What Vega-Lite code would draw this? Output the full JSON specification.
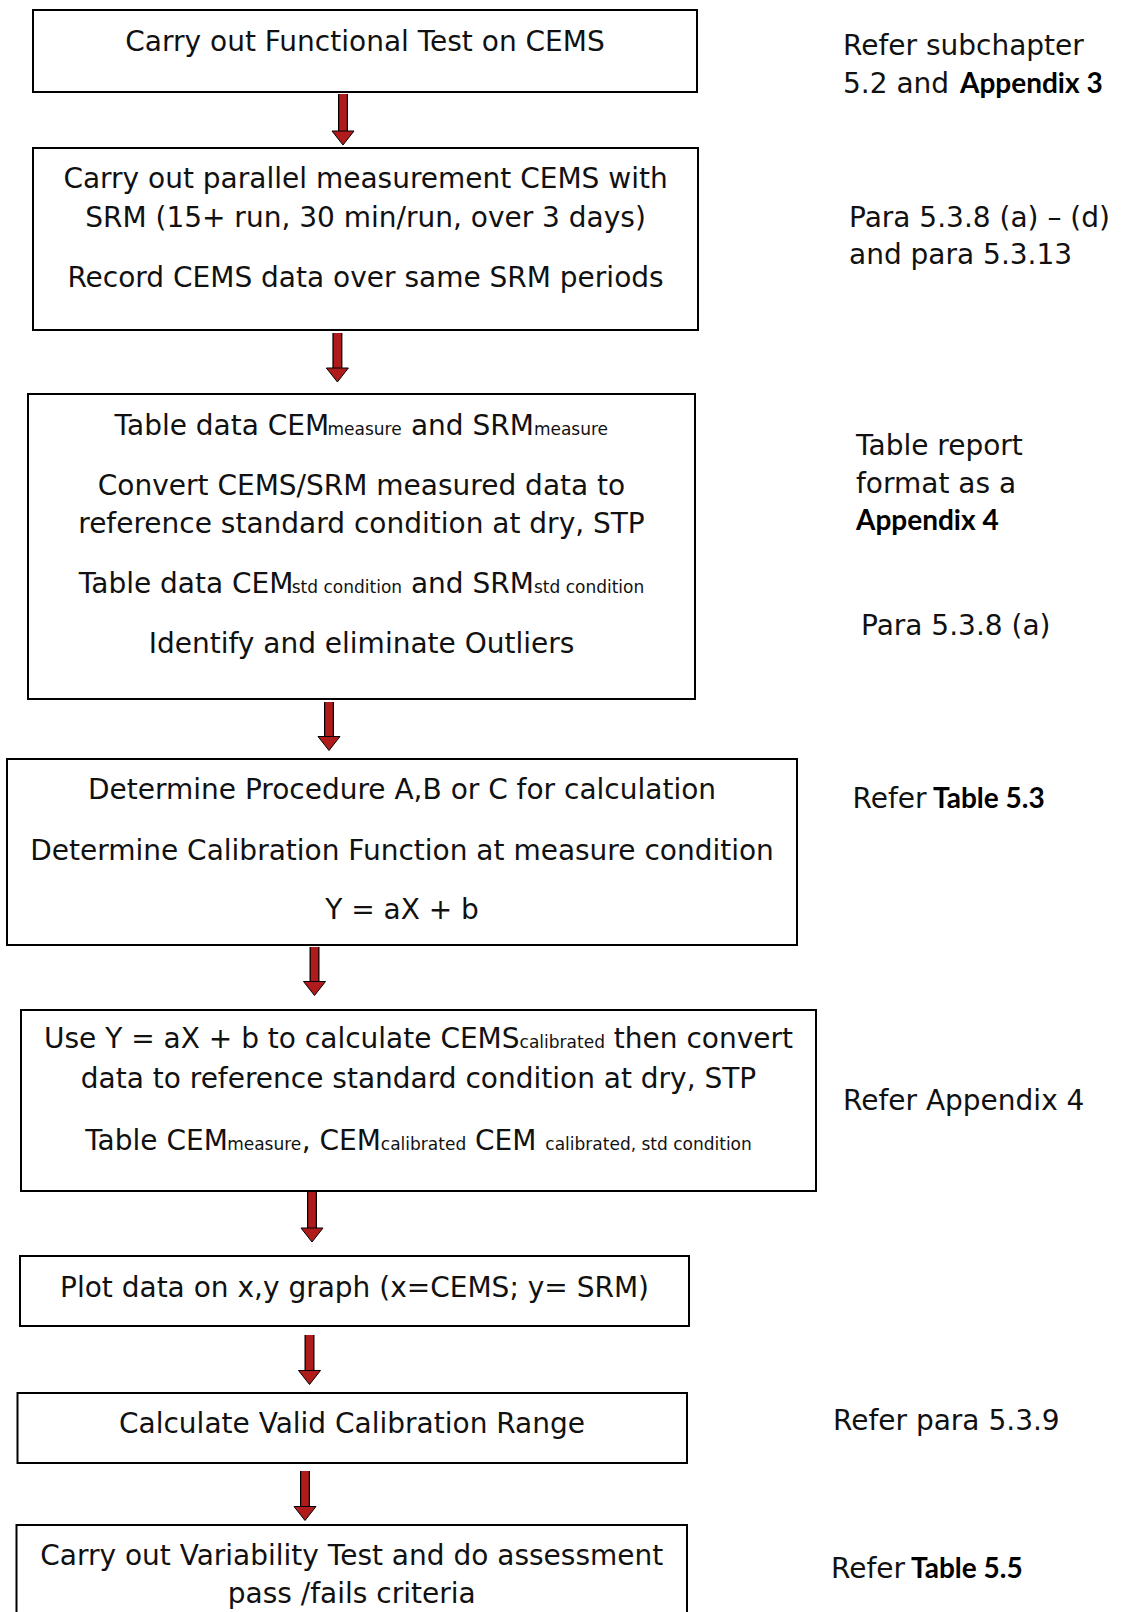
{
  "$schema": "https://vega.github.io/schema/vega-lite/v6.json",
  "width": 1129,
  "height": 1612,
  "padding": 0,
  "autosize": {"type": "fit", "contains": "padding"},
  "background": "white",
  "config": {"view": {"stroke": null}},
  "datasets": {
    "boxes": [
      {"x": 33, "x2": 697, "y": 10, "y2": 92},
      {"x": 33, "x2": 698, "y": 148, "y2": 330},
      {"x": 28, "x2": 695, "y": 394, "y2": 699},
      {"x": 7, "x2": 797, "y": 759, "y2": 945},
      {"x": 21, "x2": 816, "y": 1010, "y2": 1191},
      {"x": 20, "x2": 689, "y": 1256, "y2": 1326},
      {"x": 17.5, "x2": 687, "y": 1393, "y2": 1463},
      {"x": 16.5, "x2": 687, "y": 1525, "y2": 1640}
    ],
    "arrows": [
      {"x": 343, "y": 94, "y2": 131, "hy": 138},
      {"x": 337.4, "y": 333, "y2": 368, "hy": 375},
      {"x": 329, "y": 702, "y2": 736.5, "hy": 743.5},
      {"x": 314.5, "y": 947, "y2": 981.5, "hy": 988.5},
      {"x": 312, "y": 1192, "y2": 1228, "hy": 1235},
      {"x": 309.5, "y": 1335, "y2": 1370.5, "hy": 1377.5},
      {"x": 305, "y": 1471, "y2": 1506.5, "hy": 1513.5}
    ],
    "labels": [
      {"t": "Carry out Functional Test on CEMS", "x": 365, "y": 51, "k": "step"},
      {"t": "Carry out parallel measurement CEMS with", "x": 365.5, "y": 188, "k": "step"},
      {"t": "SRM (15+ run, 30 min/run, over 3 days)", "x": 365.5, "y": 227, "k": "step"},
      {"t": "Record CEMS data over same SRM periods", "x": 365.5, "y": 287, "k": "step"},
      {"t": "Convert CEMS/SRM measured data to", "x": 361.5, "y": 495, "k": "step"},
      {"t": "reference standard condition at dry, STP", "x": 361.5, "y": 533, "k": "step"},
      {"t": "Identify and eliminate Outliers", "x": 361.5, "y": 653, "k": "step"},
      {"t": "Determine Procedure A,B or C for calculation", "x": 402, "y": 799, "k": "step"},
      {"t": "Determine Calibration Function at measure condition", "x": 402, "y": 860, "k": "step"},
      {"t": "Y = aX + b", "x": 402, "y": 919, "k": "step"},
      {"t": "data to reference standard condition at dry, STP", "x": 418.5, "y": 1088, "k": "step"},
      {"t": "Plot data on x,y graph (x=CEMS; y= SRM)", "x": 354.5, "y": 1297, "k": "step"},
      {"t": "Calculate Valid Calibration Range", "x": 352, "y": 1433, "k": "step"},
      {"t": "Carry out Variability Test and do assessment", "x": 351.7, "y": 1565, "k": "step"},
      {"t": "pass /fails criteria", "x": 351.7, "y": 1603, "k": "step"},
      {"t": "Table data CEM", "x": 114.5, "y": 435, "k": "run"},
      {"t": "measure", "x": 327.5, "y": 435, "k": "sub"},
      {"t": "and SRM", "x": 410.9, "y": 435, "k": "run"},
      {"t": "measure", "x": 533.9, "y": 435, "k": "sub"},
      {"t": "Table data CEM", "x": 78.75, "y": 593, "k": "run"},
      {"t": "std condition", "x": 291.75, "y": 593, "k": "sub"},
      {"t": "and SRM", "x": 410.95, "y": 593, "k": "run"},
      {"t": "std condition", "x": 533.95, "y": 593, "k": "sub"},
      {"t": "Use Y = aX + b to calculate CEMS", "x": 44, "y": 1048, "k": "run"},
      {"t": "calibrated", "x": 519.6, "y": 1048, "k": "sub"},
      {"t": "then convert", "x": 613.8, "y": 1048, "k": "run"},
      {"t": "Table CEM", "x": 85.15, "y": 1150, "k": "run"},
      {"t": "measure", "x": 227.15, "y": 1150, "k": "sub"},
      {"t": ", CEM", "x": 301.65, "y": 1150, "k": "run"},
      {"t": "calibrated", "x": 380.85, "y": 1150, "k": "sub"},
      {"t": "CEM", "x": 475.05, "y": 1150, "k": "run"},
      {"t": "calibrated, std condition", "x": 545.35, "y": 1150, "k": "sub"},
      {"t": "Refer subchapter", "x": 843, "y": 55, "k": "run"},
      {"t": "5.2 and", "x": 843, "y": 93, "k": "run"},
      {"t": "Appendix 3", "x": 960, "y": 93, "k": "bold"},
      {"t": "Para 5.3.8 (a) – (d)", "x": 849, "y": 227, "k": "run"},
      {"t": "and para 5.3.13", "x": 849, "y": 264, "k": "run"},
      {"t": "Table report", "x": 856, "y": 455, "k": "run"},
      {"t": "format as a", "x": 856, "y": 493, "k": "run"},
      {"t": "Appendix 4", "x": 856, "y": 530, "k": "bold"},
      {"t": "Para 5.3.8 (a)", "x": 861, "y": 635, "k": "run"},
      {"t": "Refer", "x": 852.5, "y": 808, "k": "run"},
      {"t": "Table 5.3", "x": 933, "y": 808, "k": "bold"},
      {"t": "Refer Appendix 4", "x": 843, "y": 1110, "k": "run"},
      {"t": "Refer para 5.3.9", "x": 833, "y": 1430, "k": "run"},
      {"t": "Refer", "x": 831, "y": 1578, "k": "run"},
      {"t": "Table 5.5", "x": 911, "y": 1578, "k": "bold"}
    ]
  },
  "layer": [
    {
      "data": {"name": "boxes"},
      "mark": {"type": "rect", "fill": "white", "stroke": "#000000", "strokeWidth": 2, "clip": true},
      "encoding": {
        "x": {"field": "x", "type": "quantitative", "scale": {"domain": [0, 1129], "nice": false, "zero": false}, "axis": null},
        "x2": {"field": "x2"},
        "y": {"field": "y", "type": "quantitative", "scale": {"domain": [0, 1612], "nice": false, "zero": false, "reverse": true}, "axis": null},
        "y2": {"field": "y2"}
      }
    },
    {
      "data": {"name": "arrows"},
      "mark": {"type": "rule", "color": "#000000", "strokeWidth": 10, "strokeCap": "butt"},
      "encoding": {
        "x": {"field": "x", "type": "quantitative", "scale": {"domain": [0, 1129], "nice": false, "zero": false}, "axis": null},
        "y": {"field": "y", "type": "quantitative", "scale": {"domain": [0, 1612], "nice": false, "zero": false, "reverse": true}, "axis": null},
        "y2": {"field": "y2"}
      }
    },
    {
      "data": {"name": "arrows"},
      "mark": {"type": "rule", "color": "#B01C1C", "strokeWidth": 7.5, "strokeCap": "butt"},
      "encoding": {
        "x": {"field": "x", "type": "quantitative", "scale": {"domain": [0, 1129], "nice": false, "zero": false}, "axis": null},
        "y": {"field": "y", "type": "quantitative", "scale": {"domain": [0, 1612], "nice": false, "zero": false, "reverse": true}, "axis": null},
        "y2": {"field": "y2"}
      }
    },
    {
      "data": {"name": "arrows"},
      "mark": {"type": "point", "shape": "M-1,-0.636L1,-0.636L0,0.636Z", "size": 484, "filled": true, "fill": "#B01C1C", "stroke": "#000000", "strokeWidth": 1, "opacity": 1},
      "encoding": {
        "x": {"field": "x", "type": "quantitative", "scale": {"domain": [0, 1129], "nice": false, "zero": false}, "axis": null},
        "y": {"field": "hy", "type": "quantitative", "scale": {"domain": [0, 1612], "nice": false, "zero": false, "reverse": true}, "axis": null}
      }
    },
    {
      "data": {"name": "labels"},
      "transform": [{"filter": "datum.k === 'step'"}],
      "mark": {"type": "text", "font": "DejaVu Sans", "fontSize": 28, "align": "center", "baseline": "alphabetic", "color": "#111111"},
      "encoding": {
        "x": {"field": "x", "type": "quantitative", "scale": {"domain": [0, 1129], "nice": false, "zero": false}, "axis": null},
        "y": {"field": "y", "type": "quantitative", "scale": {"domain": [0, 1612], "nice": false, "zero": false, "reverse": true}, "axis": null},
        "text": {"field": "t"}
      }
    },
    {
      "data": {"name": "labels"},
      "transform": [{"filter": "datum.k === 'run'"}],
      "mark": {"type": "text", "font": "DejaVu Sans", "fontSize": 28, "align": "left", "baseline": "alphabetic", "color": "#111111"},
      "encoding": {
        "x": {"field": "x", "type": "quantitative", "scale": {"domain": [0, 1129], "nice": false, "zero": false}, "axis": null},
        "y": {"field": "y", "type": "quantitative", "scale": {"domain": [0, 1612], "nice": false, "zero": false, "reverse": true}, "axis": null},
        "text": {"field": "t"}
      }
    },
    {
      "data": {"name": "labels"},
      "transform": [{"filter": "datum.k === 'sub'"}],
      "mark": {"type": "text", "font": "DejaVu Sans", "fontSize": 17, "align": "left", "baseline": "alphabetic", "color": "#111111"},
      "encoding": {
        "x": {"field": "x", "type": "quantitative", "scale": {"domain": [0, 1129], "nice": false, "zero": false}, "axis": null},
        "y": {"field": "y", "type": "quantitative", "scale": {"domain": [0, 1612], "nice": false, "zero": false, "reverse": true}, "axis": null},
        "text": {"field": "t"}
      }
    },
    {
      "data": {"name": "labels"},
      "transform": [{"filter": "datum.k === 'bold'"}],
      "mark": {"type": "text", "font": "Lato", "fontWeight": "bold", "fontSize": 28, "align": "left", "baseline": "alphabetic", "color": "#000000"},
      "encoding": {
        "x": {"field": "x", "type": "quantitative", "scale": {"domain": [0, 1129], "nice": false, "zero": false}, "axis": null},
        "y": {"field": "y", "type": "quantitative", "scale": {"domain": [0, 1612], "nice": false, "zero": false, "reverse": true}, "axis": null},
        "text": {"field": "t"}
      }
    }
  ]
}
